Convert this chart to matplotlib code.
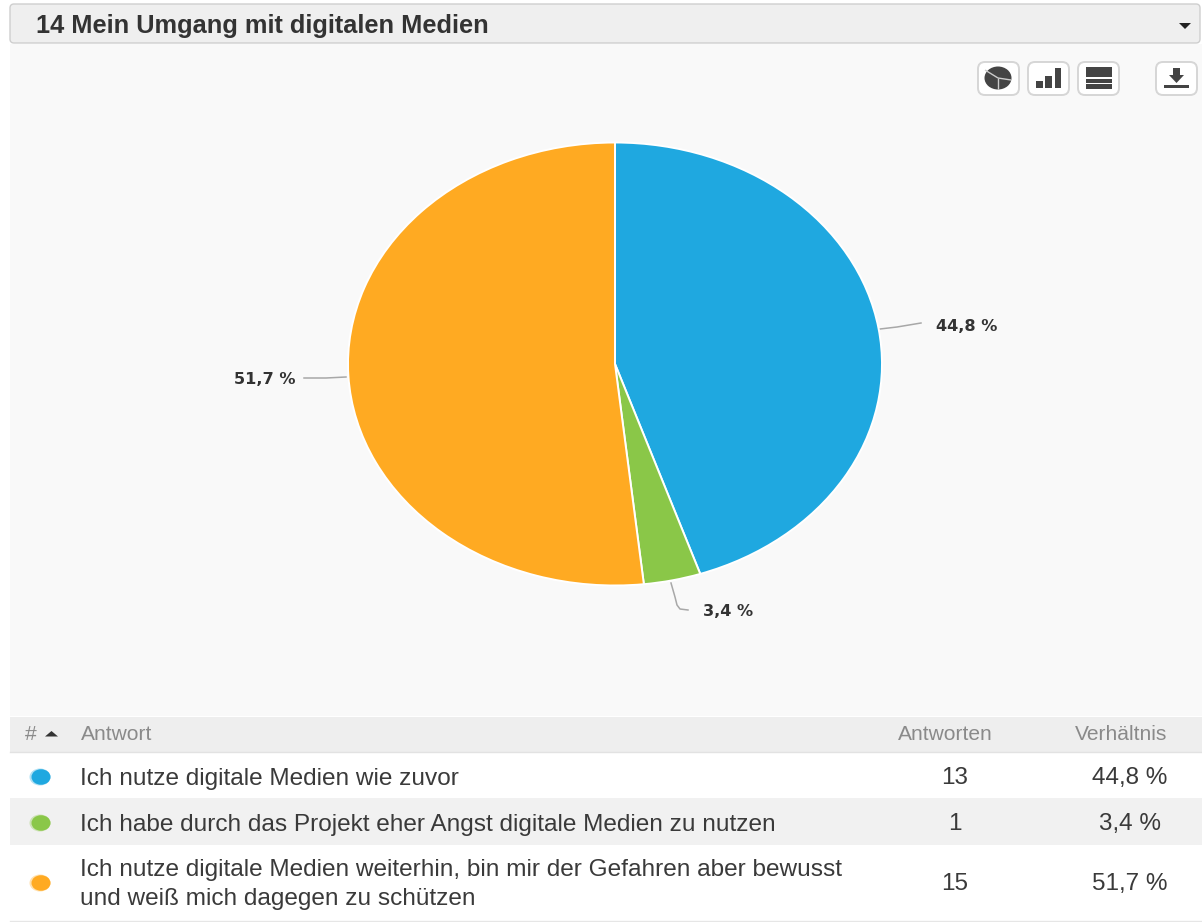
import matplotlib
matplotlib.use("Agg")
import matplotlib.pyplot as plt
from matplotlib.patches import FancyBboxPatch, Rectangle, Ellipse, Polygon

plt.rcParams['font.family'] = ['Liberation Sans', 'DejaVu Sans']

W, H = 1202, 922
title = "14 Mein Umgang mit digitalen Medien"
answers = [["Ich nutze digitale Medien wie zuvor"],
           ["Ich habe durch das Projekt eher Angst digitale Medien zu nutzen"],
           ["Ich nutze digitale Medien weiterhin, bin mir der Gefahren aber bewusst",
            "und weiß mich dagegen zu schützen"]]
counts = [13, 1, 15]
shares = ["44,8 %", "3,4 %", "51,7 %"]
colors = ["#1FA8E0", "#8AC748", "#FFAA22"]
headers = ["Antwort", "Antworten", "Verhältnis"]

fig = plt.figure(figsize=(W/100, H/100), dpi=100, facecolor="white")
bg = fig.add_axes([0, 0, 1, 1])
bg.set_xlim(0, W); bg.set_ylim(H, 0); bg.axis("off")

# panel
bg.add_patch(Rectangle((10, 44), W-10, 672, fc="#F9F9F9", ec="none"))
bg.add_patch(FancyBboxPatch((10, 4), W-12, 39, boxstyle="round,pad=0,rounding_size=4",
                            fc="#EFEFEF", ec="#CFCFCF", lw=1.0))
bg.text(36, 26, title, fontsize=18.3, fontweight="bold", color="#333333", va="center", ha="left")
bg.add_patch(Polygon([(1179, 23), (1191, 23), (1185, 29)], fc="#222222", ec="none"))

# toolbar buttons
for x0, x1 in [(978, 1019), (1028, 1069), (1078, 1119), (1156, 1197)]:
    bg.add_patch(FancyBboxPatch((x0, 62), x1-x0, 33, boxstyle="round,pad=0,rounding_size=7",
                                fc="white", ec="#D6D6D6", lw=1.4))
ic = "#444444"
bg.add_patch(Ellipse((998, 78), 27, 23, fc=ic, ec="none"))
for ex, ey in [(985, 70), (1011, 80), (998, 89)]:
    bg.plot([998, ex], [78, ey], color="#CCCCCC", lw=1, solid_capstyle="butt")
for bx, bw, by in [(1036, 7, 81), (1045, 6.5, 76), (1055, 6, 68)]:
    bg.add_patch(Rectangle((bx, by), bw, 88-by, fc=ic, ec="none"))
for by, bh in [(67, 10), (79, 4), (84.5, 5)]:
    bg.add_patch(Rectangle((1086, by), 26, bh, fc=ic, ec="none"))
bg.add_patch(Polygon([(1173, 68), (1180, 68), (1180, 75), (1184, 75), (1176.5, 83), (1169, 75), (1173, 75)], fc=ic, ec="none"))
bg.add_patch(Rectangle((1164, 85), 25, 3, fc=ic, ec="none"))

# pie (stretched like the reference)
ax = fig.add_axes([348/W, 1-585.5/H, (882-348)/W, (585.5-142.5)/H])
ax.pie(counts, colors=colors, startangle=90, counterclock=False, radius=1,
       wedgeprops=dict(edgecolor="white", linewidth=1.4))
ax.set_aspect("auto"); ax.set_xlim(-1, 1); ax.set_ylim(-1, 1); ax.axis("off")

# leader lines and labels
lc = "#A8A8A8"
bg.plot([880, 897, 921], [329, 327, 323], color=lc, lw=1.1)
bg.plot([346, 326, 304], [377, 378, 378], color=lc, lw=1.1)
bg.plot([671, 675, 677, 680, 688], [583, 597, 605, 609, 610], color=lc, lw=1.1)
lab = dict(fontsize=11.6, fontweight="bold", color="#333333", va="center", family="DejaVu Sans")
bg.text(936, 326, shares[0], **lab)
bg.text(296, 379, shares[2], ha="right", **lab)
bg.text(703, 611, shares[1], **lab)

# table
bg.add_patch(Rectangle((10, 717), W-10, 35, fc="#EEEEEE", ec="none"))
bg.add_patch(Rectangle((10, 752), W-10, 46, fc="white", ec="none"))
bg.add_patch(Rectangle((10, 798), W-10, 47, fc="#F1F1F1", ec="none"))
bg.add_patch(Rectangle((10, 845), W-10, 75, fc="white", ec="none"))
bg.plot([10, W], [752, 752], color="#E2E2E2", lw=1)
bg.plot([10, W], [920.5, 920.5], color="#E6E6E6", lw=1)
hc = "#8A8A8A"
bg.text(25, 734, "#", fontsize=15.1, color=hc, va="center")
bg.add_patch(Polygon([(45, 736.5), (58, 736.5), (51.5, 731)], fc="#333333", ec="none"))
bg.text(81, 734, headers[0], fontsize=15.1, color=hc, va="center")
bg.text(945.5, 734, headers[1], fontsize=15.1, color=hc, va="center", ha="center")
bg.text(1121.5, 734, headers[2], fontsize=15.1, color=hc, va="center", ha="center")

rows_y = [777, 823, 883]
line_gap = 29
for y, a, n, s, c in zip(rows_y, answers, counts, shares, colors):
    bg.add_patch(Ellipse((40, y), 21, 17, fc=c, ec="none", alpha=0.35))
    bg.add_patch(Ellipse((41, y), 19, 15.5, fc=c, ec="none"))
    top = y + 1.5 - line_gap * (len(a) - 1) / 2
    for i, part in enumerate(a):
        bg.text(80, top + i * line_gap, part, fontsize=17.6, color="#3A3A3A", va="center")
    bg.text(954.5, y + 1, str(n), fontsize=17.5, color="#3A3A3A", va="center", ha="center")
    bg.text(1130, y + 1, s, fontsize=17.5, color="#3A3A3A", va="center", ha="center")

fig.savefig("out.png", dpi=100)
